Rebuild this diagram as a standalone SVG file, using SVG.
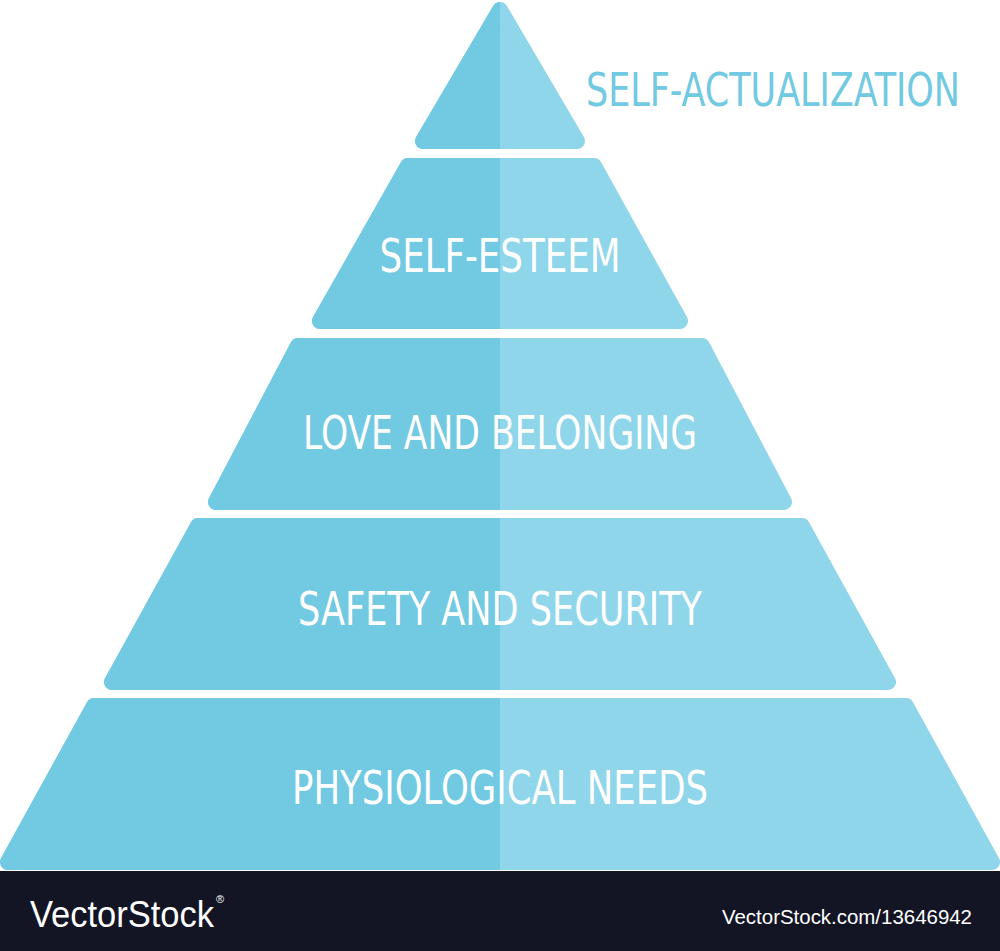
<svg xmlns="http://www.w3.org/2000/svg" xmlns:xlink="http://www.w3.org/1999/xlink" width="1000" height="951" viewBox="0 0 1000 951">
<style>
.r{fill:#8fd6ea;stroke:#8fd6ea;stroke-width:16;stroke-linejoin:round}
.l{fill:#72c9e2;stroke:#72c9e2;stroke-width:16;stroke-linejoin:round}
.t{font-family:"DejaVu Sans Condensed","DejaVu Sans",sans-serif;font-stretch:condensed;fill:#fff;font-size:46px;text-anchor:middle}
</style>
<defs>
<clipPath id="left"><rect x="0" y="0" width="500" height="951"/></clipPath>
<path id="p1" d="M500,10 L577,141 L423,141 Z"/>
<path id="p2" d="M408,166 L594,166 L680,321 L320,321 Z"/>
<path id="p3" d="M298,346 L702,346 L784,502 L216,502 Z"/>
<path id="p4" d="M198,526 L802,526 L888,682 L112,682 Z"/>
<path id="p5" d="M94,706 L906,706 L992,862 L8,862 Z"/>
</defs>
<rect width="1000" height="951" fill="#fff"/>
<g id="tier1"><use xlink:href="#p1" class="r"/><use xlink:href="#p1" class="l" clip-path="url(#left)"/></g>
<g id="tier2"><use xlink:href="#p2" class="r"/><use xlink:href="#p2" class="l" clip-path="url(#left)"/><text class="t" x="500" y="272" textLength="241" lengthAdjust="spacingAndGlyphs">SELF-ESTEEM</text></g>
<g id="tier3"><use xlink:href="#p3" class="r"/><use xlink:href="#p3" class="l" clip-path="url(#left)"/><text class="t" x="500" y="449" textLength="394" lengthAdjust="spacingAndGlyphs">LOVE AND BELONGING</text></g>
<g id="tier4"><use xlink:href="#p4" class="r"/><use xlink:href="#p4" class="l" clip-path="url(#left)"/><text class="t" x="500" y="625" textLength="404" lengthAdjust="spacingAndGlyphs">SAFETY AND SECURITY</text></g>
<g id="tier5"><use xlink:href="#p5" class="r"/><use xlink:href="#p5" class="l" clip-path="url(#left)"/><text class="t" x="500" y="804" textLength="416" lengthAdjust="spacingAndGlyphs">PHYSIOLOGICAL NEEDS</text></g>
<g id="label-top"><text x="586" y="106" font-family="DejaVu Sans Condensed,DejaVu Sans,sans-serif" font-size="46" fill="#72c9e2" textLength="374" lengthAdjust="spacingAndGlyphs">SELF-ACTUALIZATION</text></g>
<g id="connectors"/>
<g id="footer">
<rect x="0" y="871" width="1000" height="80" fill="#131525"/>
<text x="30" y="927" font-family="Liberation Sans,sans-serif" font-size="36" fill="#fff" textLength="184" lengthAdjust="spacingAndGlyphs">VectorStock</text>
<text x="216" y="903" font-family="Liberation Sans,sans-serif" font-size="11" fill="#fff">®</text>
<text x="972" y="924" font-family="Liberation Sans,sans-serif" font-size="20" fill="#fff" text-anchor="end" textLength="250" lengthAdjust="spacingAndGlyphs">VectorStock.com/13646942</text>
</g>
</svg>
